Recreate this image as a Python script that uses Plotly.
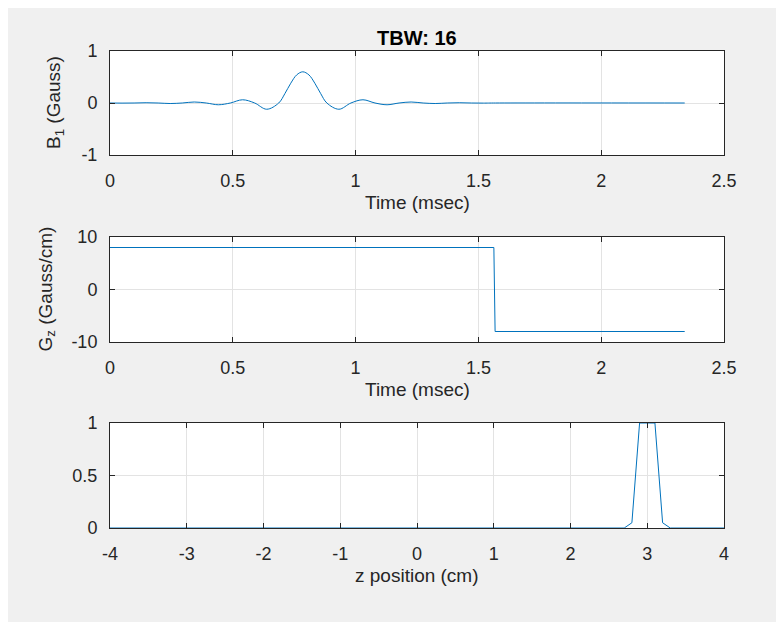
import plotly.graph_objects as go

# ---- data ----
t_b1 = [0, 0.049, 0.098, 0.147, 0.196, 0.245, 0.294, 0.343, 0.392, 0.441, 0.490,
        0.540, 0.589, 0.638, 0.687, 0.712, 0.736, 0.760, 0.785, 0.810, 0.834, 0.858,
        0.883, 0.932, 0.981, 1.030, 1.079, 1.128, 1.177, 1.226, 1.275, 1.324, 1.373,
        1.422, 1.471, 1.520, 1.570, 2.340]
b1 = [0, -0.002, 0, 0.005, 0, -0.01, 0, 0.019, 0, -0.034, 0,
      0.062, 0, -0.12, 0, 0.18, 0.38, 0.54, 0.60, 0.54, 0.38, 0.18,
      0, -0.12, 0, 0.062, 0, -0.034, 0, 0.019, 0, -0.01, 0,
      0.005, 0, -0.002, 0, 0]

t_gz = [0, 1.563, 1.568, 2.340]
gz = [8, 8, -8, -8]

z_pos = [-4, 2.7, 2.8, 2.9, 3.0, 3.1, 3.2, 3.3, 4]
profile = [0, 0, 0.05, 1, 1, 1, 0.05, 0, 0]

time_ticks = [0, 0.5, 1, 1.5, 2, 2.5]
time_ticktext = ["0", "0.5", "1", "1.5", "2", "2.5"]
z_ticks = [-4, -3, -2, -1, 0, 1, 2, 3, 4]
z_ticktext = ["-4", "-3", "-2", "-1", "0", "1", "2", "3", "4"]
b1_ticks = [-1, 0, 1]
b1_ticktext = ["-1", "0", "1"]
gz_ticks = [-10, 0, 10]
gz_ticktext = ["-10", "0", "10"]
prof_ticks = [0, 0.5, 1]
prof_ticktext = ["0", "0.5", "1"]

title_text = "TBW: 16"
xlabel_time = "Time (msec)"
xlabel_z = "z position (cm)"
ylabel_b1 = "B<sub>1</sub> (Gauss)"
ylabel_gz = "G<sub>z</sub> (Gauss/cm)"

# ---- layout helpers (page has an 8px body margin) ----
OX, OY = 8, 8
W, H = 784 - OX, 622 - OY
def px_x(p): return (p - OX) / W
def px_y(p): return (H - (p - OY)) / H

LINE = "#0072BD"
AX = "#262626"
GRID = "#e3e3e3"
FONT = "Liberation Sans, Arial, Helvetica, sans-serif"
TICKSIZE = 18
LABELSIZE = 19

fig = go.Figure()
fig.add_trace(go.Scatter(x=t_b1, y=b1, mode="lines",
                         line=dict(color=LINE, width=1, shape="spline", smoothing=1.0),
                         xaxis="x", yaxis="y", showlegend=False))
fig.add_trace(go.Scatter(x=t_gz, y=gz, mode="lines", line=dict(color=LINE, width=1),
                         xaxis="x2", yaxis="y2", showlegend=False))
fig.add_trace(go.Scatter(x=z_pos, y=profile, mode="lines", line=dict(color=LINE, width=1),
                         xaxis="x3", yaxis="y3", showlegend=False))

XL, XR = 110, 724
xdom = [px_x(XL), px_x(XR)]
doms = [(51, 155), (237, 342), (423, 528)]

common = dict(showline=True, linecolor=AX, linewidth=1, mirror="ticks", ticks="inside",
              ticklen=5, tickcolor=AX, showgrid=True, gridcolor=GRID, gridwidth=1,
              zeroline=False, tickfont=dict(size=TICKSIZE, color=AX, family=FONT),
              automargin=False, tickmode="array")

def xaxis(anchor, rng, tv, tt):
    d = dict(common)
    d.update(domain=xdom, anchor=anchor, range=rng, tickvals=tv, ticktext=tt,
             ticklabelstandoff=9)
    return d

def yaxis(anchor, dom, rng, tv, tt):
    d = dict(common)
    d.update(domain=[px_y(dom[1]), px_y(dom[0])], anchor=anchor, range=rng,
             tickvals=tv, ticktext=tt, ticklabelstandoff=8)
    return d

def ann(text, x, y, size, angle=0, bold=False, color=AX):
    return dict(text=("<b>" + text + "</b>") if bold else text, x=px_x(x), y=px_y(y),
                xref="paper", yref="paper", showarrow=False, textangle=angle,
                font=dict(size=size, color=color, family=FONT),
                xanchor="center", yanchor="middle")

xc = (XL + XR) / 2
annotations = [
    ann(title_text, xc, 38, 20, bold=True, color="black"),
    ann(xlabel_time, xc, 202, LABELSIZE),
    ann(xlabel_time, xc, 389, LABELSIZE),
    ann(xlabel_z, xc, 575, LABELSIZE),
    ann(ylabel_b1, 55, (doms[0][0] + doms[0][1]) / 2, LABELSIZE, angle=-90),
    ann(ylabel_gz, 46, (doms[1][0] + doms[1][1]) / 2, LABELSIZE, angle=-90),
]

fig.update_layout(
    width=W, height=H,
    margin=dict(l=0, r=0, t=0, b=0),
    paper_bgcolor="#f0f0f0",
    plot_bgcolor="white",
    font=dict(family=FONT, color=AX),
    xaxis=xaxis("y", [0, 2.5], time_ticks, time_ticktext),
    yaxis=yaxis("x", doms[0], [-1, 1], b1_ticks, b1_ticktext),
    xaxis2=xaxis("y2", [0, 2.5], time_ticks, time_ticktext),
    yaxis2=yaxis("x2", doms[1], [-10, 10], gz_ticks, gz_ticktext),
    xaxis3=xaxis("y3", [-4, 4], z_ticks, z_ticktext),
    yaxis3=yaxis("x3", doms[2], [0, 1], prof_ticks, prof_ticktext),
    annotations=annotations,
)

fig.write_html("out.html")
